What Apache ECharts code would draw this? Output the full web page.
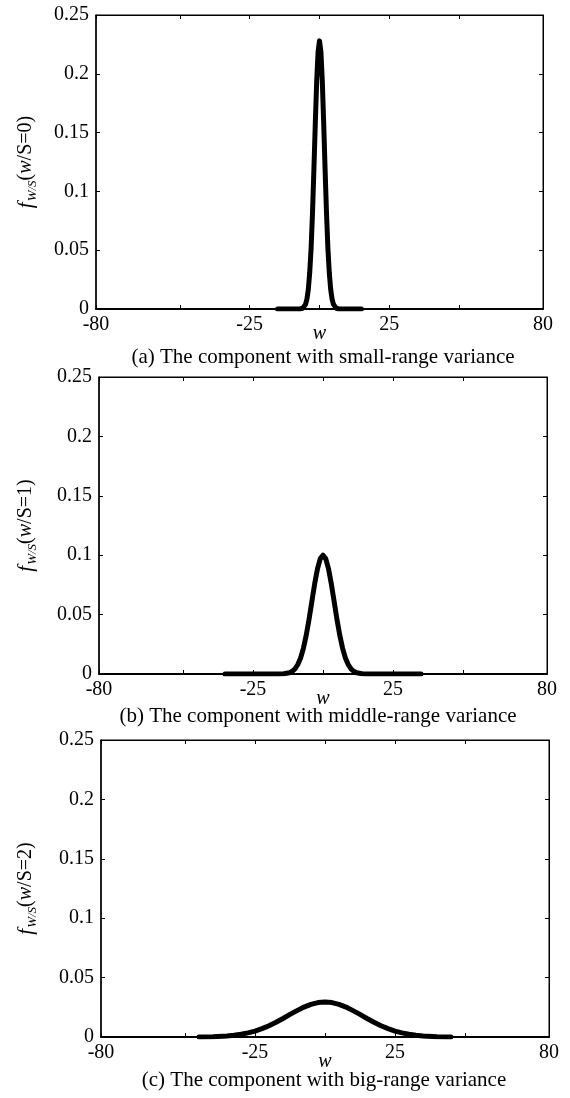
<!DOCTYPE html>
<html><head><meta charset="utf-8">
<script src="https://cdn.jsdelivr.net/npm/echarts@6/dist/echarts.min.js"></script>
<style>html,body{margin:0;padding:0;background:#fff}#c{width:570px;height:1098px}</style>
</head><body><div id="c"></div>
<script>
// ---- data ----
const X_TICKS = [-80, -50, -25, 0, 25, 50, 80];
const X_LABELS = [-80, -25, 25, 80];
const Y_MIN = 0, Y_MAX = 0.25, Y_STEP = 0.05;
const CAPTIONS = [
  '(a) The component with small-range variance',
  '(b) The component with middle-range variance',
  '(c) The component with big-range variance'
];
const S_VALUES = ['0', '1', '2'];

// (a) small-range variance
const W_A = [-15, -7, -6, -5, -4.5, -4, -3.5, -3, -2.5, -2, -1.5, -1, -0.5, 0, 0.5, 1, 1.5, 2, 2.5, 3, 3.5, 4, 4.5, 5, 6, 7, 15];
const F_A = [0, 0, 0.0006, 0.0039, 0.0084, 0.0167, 0.031, 0.052, 0.082, 0.119, 0.158, 0.194, 0.219, 0.228, 0.219, 0.194, 0.158, 0.119, 0.082, 0.052, 0.031, 0.0167, 0.0084, 0.0039, 0.0006, 0, 0];

// (b) middle-range variance
const W_B = [-35, -16, -14, -12, -11, -10, -9, -8, -7, -6, -5, -4, -3, -2, -1, 0, 1, 2, 3, 4, 5, 6, 7, 8, 9, 10, 11, 12, 14, 16, 35];
const F_B = [0, 0, 0.0002, 0.0011, 0.0023, 0.0044, 0.0080, 0.0135, 0.0216, 0.0325, 0.0458, 0.0607, 0.0755, 0.0882, 0.0969, 0.1, 0.0969, 0.0882, 0.0755, 0.0607, 0.0458, 0.0325, 0.0216, 0.0135, 0.0080, 0.0044, 0.0023, 0.0011, 0.0002, 0, 0];

// (c) big-range variance
const W_C = [-45, -40, -35, -32.5, -30, -27.5, -25, -22.5, -20, -17.5, -15, -12.5, -10, -7.5, -5, -2.5, 0, 2.5, 5, 7.5, 10, 12.5, 15, 17.5, 20, 22.5, 25, 27.5, 30, 32.5, 35, 40, 45];
const F_C = [0.0001, 0.0003, 0.0009, 0.0015, 0.0023, 0.0035, 0.0050, 0.0071, 0.0095, 0.0124, 0.0156, 0.0190, 0.0222, 0.0252, 0.0275, 0.0290, 0.0295, 0.0290, 0.0275, 0.0252, 0.0222, 0.0190, 0.0156, 0.0124, 0.0095, 0.0071, 0.0050, 0.0035, 0.0023, 0.0015, 0.0009, 0.0003, 0.0001];

const SERIES_W = [W_A, W_B, W_C];
const SERIES_F = [F_A, F_B, F_C];

// ---- layout / style ----
const FONT = '"Liberation Serif","Times New Roman",serif';
const GRIDS = [
  { left: 96, top: 15, width: 447, height: 294 },
  { left: 99, top: 377, width: 448, height: 297 },
  { left: 101, top: 740, width: 448, height: 297 }
];
const CAPTION_POS = [[323, 357], [318, 716], [324, 1080]];

const grid = [], xAxis = [], yAxis = [], series = [], graphic = [];
GRIDS.forEach((g, i) => {
  grid.push(Object.assign({ show: true, borderColor: '#000', borderWidth: 1, backgroundColor: 'transparent' }, g));
  const tickStyle = { show: true, inside: true, length: 4, lineStyle: { color: '#000', width: 1 } };
  xAxis.push({
    gridIndex: i, type: 'value', min: -80, max: 80, position: 'bottom',
    axisLine: { show: true, onZero: false, lineStyle: { color: '#000', width: 2 } },
    axisTick: Object.assign({ customValues: X_TICKS }, tickStyle),
    axisLabel: { customValues: X_LABELS, color: '#000', fontFamily: FONT, fontSize: 20, margin: 6 },
    splitLine: { show: false },
    name: 'w', nameLocation: 'middle', nameGap: 15, nameMoveOverlap: false,
    nameTextStyle: { color: '#000', fontFamily: FONT, fontSize: 20, fontStyle: 'italic' }
  });
  xAxis.push({
    gridIndex: i, type: 'value', min: -80, max: 80, position: 'top',
    axisLine: { show: true, onZero: false, lineStyle: { color: '#000', width: 1 } },
    axisTick: Object.assign({ customValues: X_TICKS }, tickStyle),
    axisLabel: { show: false }, splitLine: { show: false }
  });
  yAxis.push({
    gridIndex: i, type: 'value', min: Y_MIN, max: Y_MAX, interval: Y_STEP, position: 'left',
    axisLine: { show: true, onZero: false, lineStyle: { color: '#000', width: 1.5 } },
    axisTick: tickStyle,
    axisLabel: { color: '#000', fontFamily: FONT, fontSize: 20, margin: 7 },
    splitLine: { show: false }
  });
  yAxis.push({
    gridIndex: i, type: 'value', min: Y_MIN, max: Y_MAX, interval: Y_STEP, position: 'right',
    axisLine: { show: true, onZero: false, lineStyle: { color: '#000', width: 1 } },
    axisTick: tickStyle,
    axisLabel: { show: false }, splitLine: { show: false }
  });
  series.push({
    type: 'line', xAxisIndex: i * 2, yAxisIndex: i * 2,
    data: SERIES_W[i].map((w, k) => [w, SERIES_F[i][k]]),
    showSymbol: false, symbol: 'none', smooth: false,
    lineStyle: { color: '#000', width: 5, join: 'round', cap: 'round' },
    silent: true, animation: false
  });
  graphic.push({
    type: 'text', x: CAPTION_POS[i][0], y: CAPTION_POS[i][1],
    style: { text: CAPTIONS[i], fill: '#000', font: '21px ' + FONT, align: 'center', verticalAlign: 'middle' }
  });
  graphic.push({
    type: 'text', x: 26, y: g.top + g.height / 2, rotation: Math.PI / 2,
    style: {
      text: '{f|f}{s|W/S}{n|(}{i|w}{n|/S=' + S_VALUES[i] + ')}',
      align: 'center', verticalAlign: 'middle', fill: '#000',
      rich: {
        f: { fontFamily: FONT, fontSize: 21, fontStyle: 'italic', lineHeight: 26, fill: '#000', padding: [0, 1, 0, 0] },
        s: { fontFamily: FONT, fontSize: 13, fontStyle: 'italic', lineHeight: 13, verticalAlign: 'bottom', fill: '#000' },
        n: { fontFamily: FONT, fontSize: 20, lineHeight: 26, fill: '#000' },
        i: { fontFamily: FONT, fontSize: 20, fontStyle: 'italic', lineHeight: 26, fill: '#000' }
      }
    }
  });
});

const chart = echarts.init(document.getElementById('c'), null, { renderer: 'canvas' });
chart.setOption({ animation: false, backgroundColor: '#fff', grid, xAxis, yAxis, series, graphic });
</script></body></html>
